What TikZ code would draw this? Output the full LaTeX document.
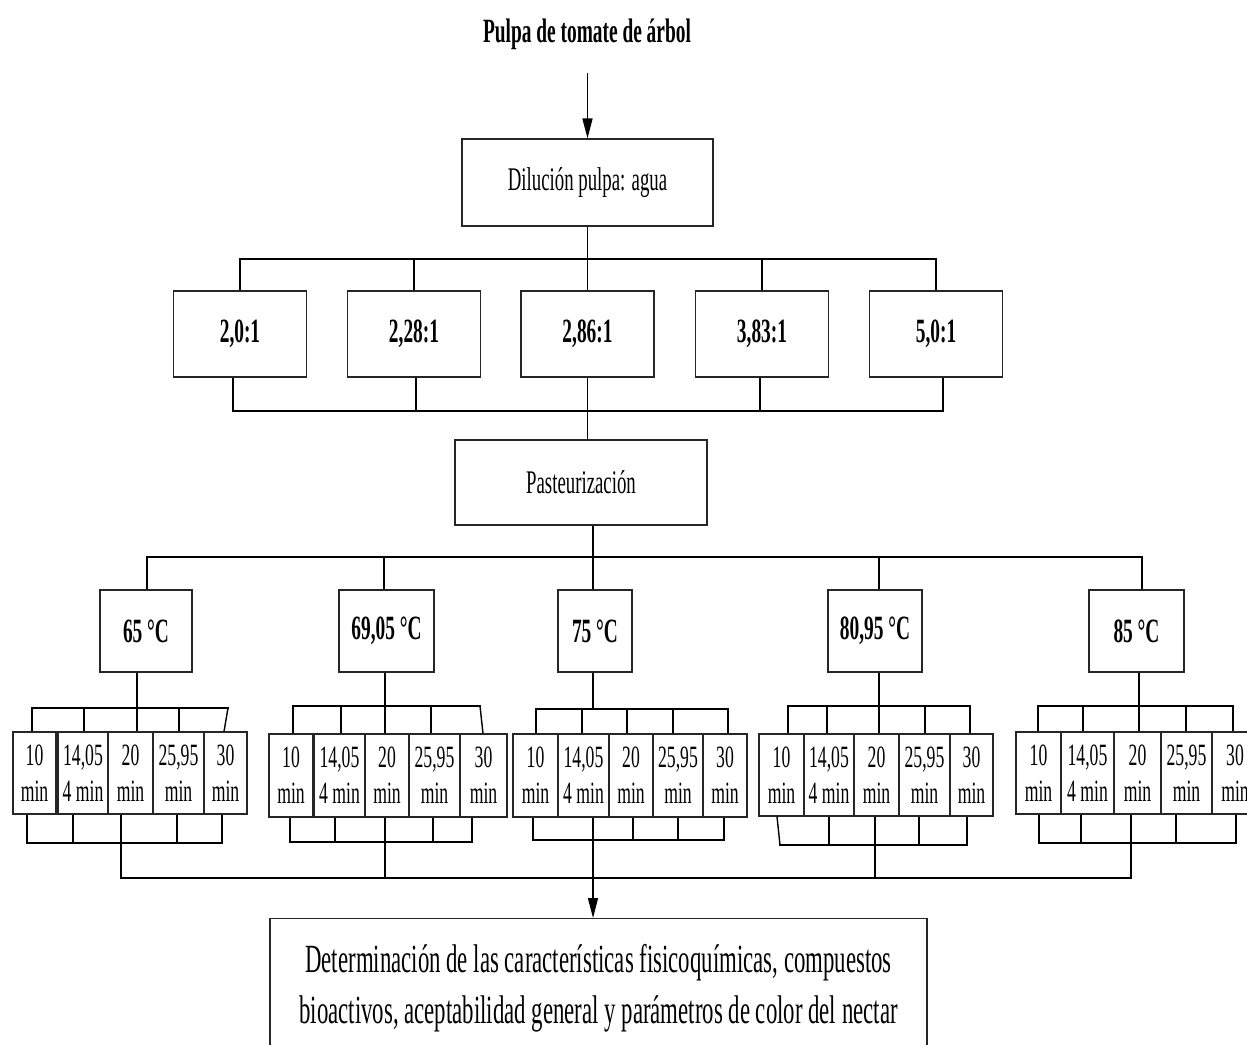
\documentclass[tikz,border=0pt]{standalone}
\usepackage{fontspec}
\setmainfont{Liberation Serif}[FakeStretch=0.57]
\usetikzlibrary{arrows.meta,calc}
\begin{document}
\begin{tikzpicture}[x=1pt,y=-1pt,
  box/.style={draw=black!85, line width=1.1pt, rectangle, inner sep=0pt, align=center},
  conn/.style={line width=1.4pt, black},
  bus/.style={line width=2.4pt, black, line cap=rect},
  arr/.style={line width=1.4pt, black, -{Triangle[length=20pt,width=10pt]}},
  ratio/.style={box, minimum width=133, minimum height=86, font=\bfseries\fontsize{34}{40}\selectfont},
  temp/.style={box, minimum height=82, font=\bfseries\fontsize{34}{40}\selectfont},
  tbox/.style={box, font=\fontsize{31}{36}\selectfont},
  proc/.style={box, font=\fontsize{33}{38}\selectfont}
]
\clip (0,0) rectangle (1247,1044);

% title and first step
\node[font=\bfseries\fontsize{34}{40}\selectfont, anchor=base] (title) at (587,42) {Pulpa de tomate de árbol};
\coordinate (arrtop) at (587.5,73);
\node[proc, minimum width=251, minimum height=87] (dil) at (587.5,182.5) {Dilución pulpa: agua};
\draw[arr] (arrtop) -- (dil.north);

% ratios
\coordinate (rtop) at (0,259);
\coordinate (rbot) at (0,411);
\node[ratio] (r1) at (240,334) {2,0:1};
\node[ratio] (r2) at (414,334) {2,28:1};
\node[ratio] (r3) at (587.5,334) {2,86:1};
\node[ratio] (r4) at (762,334) {3,83:1};
\node[ratio] (r5) at (936,334) {5,0:1};
\draw[conn] (dil.south) -- (dil.south |- rtop);
\draw[bus] (r1.north |- rtop) -- (r5.north |- rtop);
\foreach \i in {1,...,5} \draw[conn] (r\i.north) -- (r\i.north |- rtop);
\foreach \i/\s in {1/-7,2/2,3/0,4/-2,5/7} {
  \draw[conn] ($(r\i.south)+(\s,0)$) -- ($(r\i.south |- rbot)+(\s,0)$);
}
\draw[bus] ($(r1.south |- rbot)+(-7,0)$) -- ($(r5.south |- rbot)+(7,0)$);

% pasteurization
\node[proc, minimum width=252, minimum height=85] (pas) at (581,482.5) {Pasteurización};
\draw[conn] (r3.south |- rbot) -- (r3.south |- pas.north);

% temperatures
\coordinate (tbus) at (0,557);
\node[temp, minimum width=92] (t1) at (146,631) {65 °C};
\node[temp, minimum width=95] (t2) at (386.5,631) {69,05 °C};
\node[temp, minimum width=74] (t3) at (595,631) {75 °C};
\node[temp, minimum width=94] (t4) at (875,631) {80,95 °C};
\node[temp, minimum width=95] (t5) at (1136.5,631) {85 °C};
\draw[conn] ($(pas.south)+(12,0)$) -- ($(pas.south |- tbus)+(12,0)$);
\draw[bus] ($(t1.north |- tbus)+(1,0)$) -- ($(t5.north |- tbus)+(5.5,0)$);
\foreach \i/\s in {1/1,2/-2.5,3/-2,4/4,5/5.5} {
  \draw[conn] ($(t\i.north)+(\s,0)$) -- ($(t\i.north |- tbus)+(\s,0)$);
}

% group levels
\coordinate (g1bus) at (0,708);
\coordinate (g2bus) at (0,706);
\coordinate (g3bus) at (0,709);
\coordinate (g4bus) at (0,706);
\coordinate (g5bus) at (0,706);
\coordinate (g1bot) at (0,843);
\coordinate (g2bot) at (0,842);
\coordinate (g3bot) at (0,840);
\coordinate (g4bot) at (0,845);
\coordinate (g5bot) at (0,843);
\coordinate (bigbus) at (0,878);

% group 1 boxes (65 C)
\node[tbox, minimum width=43, minimum height=82] (g1b1) at (34.5,773) {10\\min};
\node[tbox, minimum width=50, minimum height=82] (g1b2) at (83,773) {14,05\\4 min};
\node[tbox, minimum width=45, minimum height=82] (g1b3) at (130.5,773) {20\\min};
\node[tbox, minimum width=51, minimum height=82] (g1b4) at (178.5,773) {25,95\\min};
\node[tbox, minimum width=43, minimum height=82] (g1b5) at (225.5,773) {30\\min};
% group 2 boxes (69,05 C)
\node[tbox, minimum width=44, minimum height=83] (g2b1) at (291,775.5) {10\\min};
\node[tbox, minimum width=51, minimum height=83] (g2b2) at (339.5,775.5) {14,05\\4 min};
\node[tbox, minimum width=44, minimum height=83] (g2b3) at (387,775.5) {20\\min};
\node[tbox, minimum width=51, minimum height=83] (g2b4) at (434.5,775.5) {25,95\\min};
\node[tbox, minimum width=47, minimum height=83] (g2b5) at (483.5,775.5) {30\\min};
% group 3 boxes (75 C)
\node[tbox, minimum width=45, minimum height=83] (g3b1) at (535.5,775.5) {10\\min};
\node[tbox, minimum width=51, minimum height=83] (g3b2) at (583.5,775.5) {14,05\\4 min};
\node[tbox, minimum width=44, minimum height=83] (g3b3) at (631,775.5) {20\\min};
\node[tbox, minimum width=50, minimum height=83] (g3b4) at (678,775.5) {25,95\\min};
\node[tbox, minimum width=44, minimum height=83] (g3b5) at (725,775.5) {30\\min};
% group 4 boxes (80,95 C)
\node[tbox, minimum width=45, minimum height=82] (g4b1) at (781.5,775) {10\\min};
\node[tbox, minimum width=50, minimum height=82] (g4b2) at (829,775) {14,05\\4 min};
\node[tbox, minimum width=45, minimum height=82] (g4b3) at (876.5,775) {20\\min};
\node[tbox, minimum width=51, minimum height=82] (g4b4) at (924.5,775) {25,95\\min};
\node[tbox, minimum width=43, minimum height=82] (g4b5) at (971.5,775) {30\\min};
% group 5 boxes (85 C)
\node[tbox, minimum width=45, minimum height=82] (g5b1) at (1038.5,773) {10\\min};
\node[tbox, minimum width=53, minimum height=82] (g5b2) at (1087.5,773) {14,05\\4 min};
\node[tbox, minimum width=47, minimum height=82] (g5b3) at (1137.5,773) {20\\min};
\node[tbox, minimum width=51, minimum height=82] (g5b4) at (1186.5,773) {25,95\\min};
\node[tbox, minimum width=46, minimum height=82] (g5b5) at (1235,773) {30\\min};

% temperature -> group bus
\foreach \g/\s in {1/-9,2/-1.5,3/-2,4/4,5/2.5} {
  \draw[conn] ($(t\g.south)+(\s,0)$) -- ($(t\g.south |- g\g bus)+(\s,0)$);
}

% top connectors: group/box/shift at box/shift at bus
\foreach \g/\b/\s/\t in {
  1/1/-2.5/-2.5, 1/2/1/1, 1/3/6.5/6.5, 1/4/0.5/0.5, 1/5/-1.5/2.5,
  2/1/2/2, 2/2/1.5/1.5, 2/3/-2/-2, 2/4/-3.5/-3.5, 2/5/-0.5/-3.5,
  3/1/0.5/0.5, 3/2/-1.5/-1.5, 3/3/-4/-4, 3/4/-5/-5, 3/5/3/3,
  4/1/6.5/6.5, 4/2/-2/-2, 4/3/2.5/2.5, 4/4/0.5/0.5, 4/5/-1.5/-1.5,
  5/1/-0.5/-0.5, 5/2/-4.5/-4.5, 5/3/1.5/1.5, 5/4/-0.5/-0.5, 5/5/-2/-2} {
  \draw[conn] ($(g\g b\b.north)+(\s,0)$) -- ($(g\g b\b.north |- g\g bus)+(\t,0)$);
}
\draw[bus] ($(g1b1.north |- g1bus)+(-2.5,0)$) -- ($(g1b5.north |- g1bus)+(2.5,0)$);
\draw[bus] ($(g2b1.north |- g2bus)+(2,0)$) -- ($(g2b5.north |- g2bus)+(-3.5,0)$);
\draw[bus] ($(g3b1.north |- g3bus)+(0.5,0)$) -- ($(g3b5.north |- g3bus)+(3,0)$);
\draw[bus] ($(g4b1.north |- g4bus)+(6.5,0)$) -- ($(g4b5.north |- g4bus)+(-1.5,0)$);
\draw[bus] ($(g5b1.north |- g5bus)+(-0.5,0)$) -- ($(g5b5.north |- g5bus)+(-2,0)$);

% bottom connectors
\foreach \g/\b/\s/\t in {
  1/1/-7.5/-7.5, 1/2/-10/-10, 1/3/-9.5/-9.5, 1/4/-1.5/-1.5, 1/5/-3.5/-3.5,
  2/1/-1/-1, 2/2/-4.5/-4.5, 2/3/-2/-2, 2/4/-1.5/-1.5, 2/5/-11.5/-11.5,
  3/1/-2.5/-2.5, 3/2/9.5/9.5, 3/3/2/2, 3/4/0/0, 3/5/-1/-1,
  4/1/-4.5/-1.5, 4/2/0/0, 4/3/-1.5/-1.5, 4/4/-5.5/-5.5, 4/5/-4.5/-4.5,
  5/1/0.5/0.5, 5/2/-6.5/-6.5, 5/3/-6.5/-6.5, 5/4/-10.5/-10.5, 5/5/1/1} {
  \draw[conn] ($(g\g b\b.south)+(\s,0)$) -- ($(g\g b\b.south |- g\g bot)+(\t,0)$);
}
\draw[bus] ($(g1b1.south |- g1bot)+(-7.5,0)$) -- ($(g1b5.south |- g1bot)+(-3.5,0)$);
\draw[bus] ($(g2b1.south |- g2bot)+(-1,0)$) -- ($(g2b5.south |- g2bot)+(-11.5,0)$);
\draw[bus] ($(g3b1.south |- g3bot)+(-2.5,0)$) -- ($(g3b5.south |- g3bot)+(-1,0)$);
\draw[bus] ($(g4b1.south |- g4bot)+(-1.5,0)$) -- ($(g4b5.south |- g4bot)+(-4.5,0)$);
\draw[bus] ($(g5b1.south |- g5bot)+(0.5,0)$) -- ($(g5b5.south |- g5bot)+(1,0)$);

% group outputs to the collecting bus
\draw[conn] ($(g1b3.south |- g1bot)+(-9.5,0)$) -- ($(g1b3.south |- bigbus)+(-9.5,0)$);
\draw[conn] ($(g2b3.south |- g2bot)+(-2,0)$) -- ($(g2b3.south |- bigbus)+(-2,0)$);
\draw[conn] ($(g4b3.south |- g4bot)+(-1.5,0)$) -- ($(g4b3.south |- bigbus)+(-1.5,0)$);
\draw[conn] ($(g5b3.south |- g5bot)+(-6.5,0)$) -- ($(g5b3.south |- bigbus)+(-6.5,0)$);
\draw[bus] ($(g1b3.south |- bigbus)+(-9.5,0)$) -- ($(g5b3.south |- bigbus)+(-6.5,0)$);

% result
\node[box, minimum width=657, minimum height=139, anchor=north, font=\fontsize{40}{51}\selectfont] (res) at (598.5,918)
  {Determinación de las características fisicoquímicas, compuestos\\bioactivos, aceptabilidad general y parámetros de color del nectar};
\coordinate (g3out) at ($(g3b2.south |- g3bot)+(9.5,0)$);
\draw[arr] (g3out) -- (g3out |- res.north);
\end{tikzpicture}
\end{document}
